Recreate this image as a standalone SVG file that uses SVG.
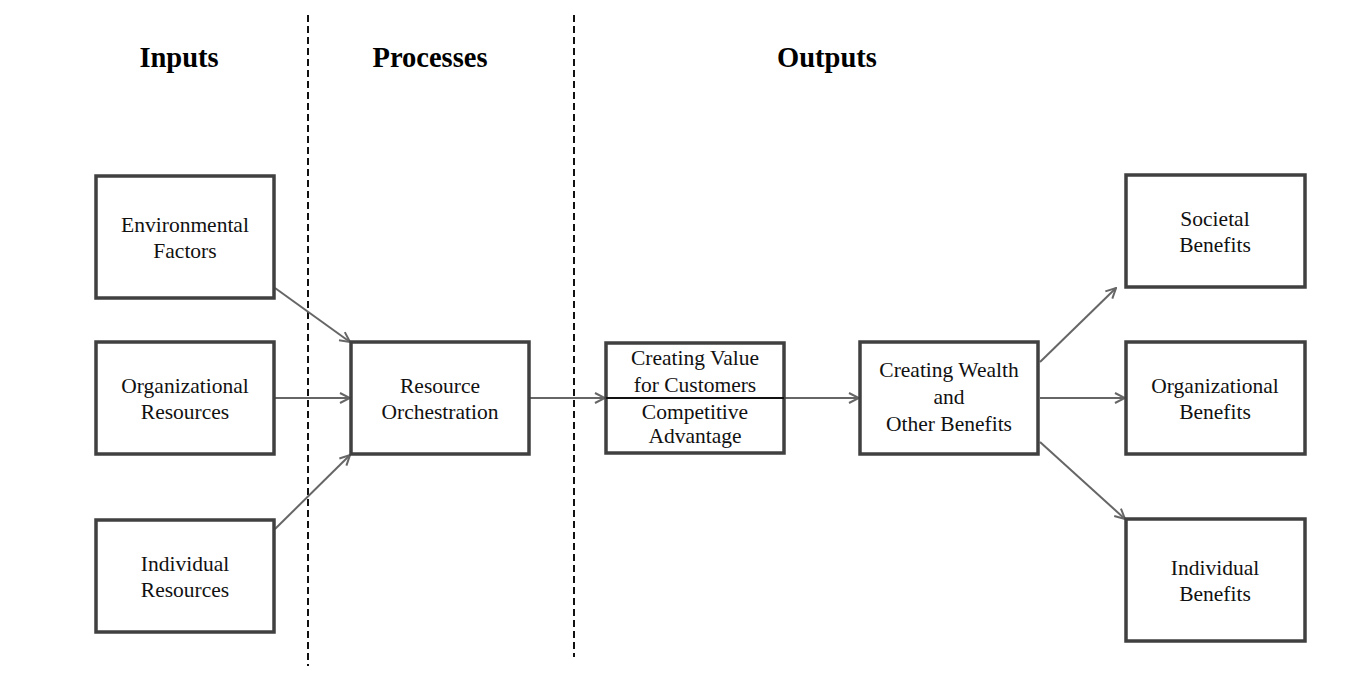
<svg xmlns="http://www.w3.org/2000/svg" width="1364" height="679" viewBox="0 0 1364 679">
<style>
.box{fill:#fff;stroke:#404040;stroke-width:3.5}
.t{font-family:"Liberation Serif","Times New Roman",serif;font-size:21.5px;fill:#111;text-anchor:middle}
.h{font-family:"Liberation Serif","Times New Roman",serif;font-size:28.5px;font-weight:bold;fill:#000;text-anchor:middle}
.c{stroke:#666;stroke-width:2;fill:none;marker-end:url(#ah)}
.d{stroke:#111;stroke-width:2;stroke-dasharray:7,4;fill:none}
</style>
<defs>
<marker id="ah" viewBox="0 0 12 12" refX="11" refY="6" markerWidth="12" markerHeight="12" markerUnits="userSpaceOnUse" orient="auto">
<path d="M1,1 L11,6 L1,11" fill="none" stroke="#666" stroke-width="2"/>
</marker>
</defs>
<rect width="1364" height="679" fill="#fff"/>
<g id="dividers">
<line class="d" x1="308" y1="15" x2="308" y2="666"/>
<line class="d" x1="574" y1="15" x2="574" y2="657"/>
</g>
<g id="headers">
<text class="h" x="179" y="67">Inputs</text>
<text class="h" x="430" y="67">Processes</text>
<text class="h" x="827" y="67">Outputs</text>
</g>
<g id="connectors">
<line class="c" x1="275" y1="288" x2="350" y2="342"/>
<line class="c" x1="275" y1="398" x2="350" y2="398"/>
<line class="c" x1="275" y1="529" x2="350" y2="455"/>
<line class="c" x1="530" y1="398" x2="605" y2="398"/>
<line class="c" x1="785" y1="398" x2="859" y2="398"/>
<line class="c" x1="1040" y1="362" x2="1116" y2="288"/>
<line class="c" x1="1040" y1="398" x2="1125" y2="398"/>
<line class="c" x1="1040" y1="442" x2="1125" y2="519"/>
</g>
<g id="env">
<rect class="box" x="96" y="176" width="178" height="122"/>
<text class="t" x="185" y="232">Environmental</text>
<text class="t" x="185" y="258">Factors</text>
</g>
<g id="orgres">
<rect class="box" x="96" y="342" width="178" height="112"/>
<text class="t" x="185" y="393">Organizational</text>
<text class="t" x="185" y="419">Resources</text>
</g>
<g id="indres">
<rect class="box" x="96" y="520" width="178" height="112"/>
<text class="t" x="185" y="571">Individual</text>
<text class="t" x="185" y="597">Resources</text>
</g>
<g id="orch">
<rect class="box" x="351" y="342" width="178" height="112"/>
<text class="t" x="440" y="393">Resource</text>
<text class="t" x="440" y="419">Orchestration</text>
</g>
<g id="value">
<rect class="box" x="606" y="343" width="178" height="110"/>
<line x1="606" y1="398" x2="784" y2="398" stroke="#111" stroke-width="2"/>
<text class="t" x="695" y="365">Creating Value</text>
<text class="t" x="695" y="392">for Customers</text>
<text class="t" x="695" y="419">Competitive</text>
<text class="t" x="695" y="443">Advantage</text>
</g>
<g id="wealth">
<rect class="box" x="860" y="342" width="178" height="112"/>
<text class="t" x="949" y="377">Creating Wealth</text>
<text class="t" x="949" y="404">and</text>
<text class="t" x="949" y="431">Other Benefits</text>
</g>
<g id="soc">
<rect class="box" x="1126" y="175" width="179" height="112"/>
<text class="t" x="1215" y="226">Societal</text>
<text class="t" x="1215" y="252">Benefits</text>
</g>
<g id="orgben">
<rect class="box" x="1126" y="342" width="179" height="112"/>
<text class="t" x="1215" y="393">Organizational</text>
<text class="t" x="1215" y="419">Benefits</text>
</g>
<g id="indben">
<rect class="box" x="1126" y="519" width="179" height="122"/>
<text class="t" x="1215" y="575">Individual</text>
<text class="t" x="1215" y="601">Benefits</text>
</g>
</svg>
